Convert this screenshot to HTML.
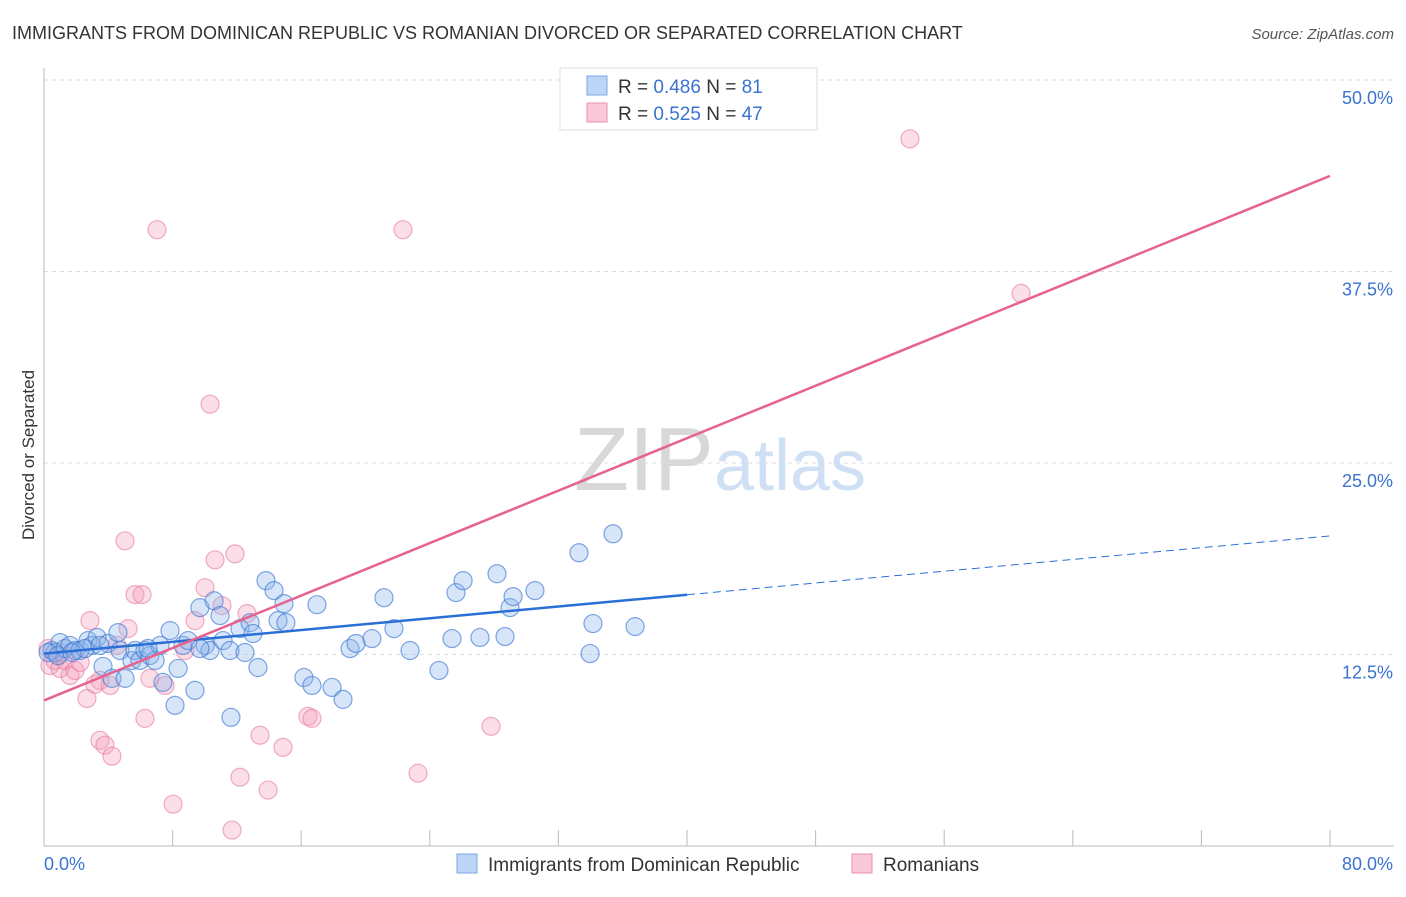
<!DOCTYPE html>
<html><head><meta charset="utf-8"><style>
body{margin:0;background:#fff;font-family:"Liberation Sans",sans-serif}
svg text{font-family:"Liberation Sans",sans-serif}
</style></head><body>
<svg id="chart" width="1406" height="892">
<text x="12" y="39" font-size="18" fill="#333">IMMIGRANTS FROM DOMINICAN REPUBLIC VS ROMANIAN DIVORCED OR SEPARATED CORRELATION CHART</text>
<text x="1394" y="39" font-size="15" fill="#555" font-style="italic" text-anchor="end">Source: ZipAtlas.com</text>
<text x="720" y="490" font-size="90" fill="#ddd" text-anchor="middle" font-family="Liberation Serif"><tspan fill="#d8d8d8">ZIP</tspan><tspan fill="#cfe0f5" font-family="Liberation Sans" font-size="72">atlas</tspan></text>
<g id="grid"></g>
<g id="axes"></g>
<text transform="translate(34,455) rotate(-90)" font-size="17" fill="#333" text-anchor="middle">Divorced or Separated</text>
<g id="pts"></g>
<g id="lines"></g>
<g>
<rect x="560" y="68" width="257" height="62" fill="#fff" stroke="#ddd"/>
<rect x="587" y="76" width="20" height="19" fill="#bcd4f5" stroke="#7aa7e6"/>
<rect x="587" y="103" width="20" height="19" fill="#f9c9d8" stroke="#ec8fae"/>
<text x="618" y="93" font-size="19" fill="#333">R = <tspan fill="#3a73d0">0.486</tspan>   N =  <tspan fill="#3a73d0">81</tspan></text>
<text x="618" y="120" font-size="19" fill="#333">R = <tspan fill="#3a73d0">0.525</tspan>   N = <tspan fill="#3a73d0">47</tspan></text>
</g>
<g>
<rect x="457" y="854" width="20" height="19" fill="#bcd4f5" stroke="#7aa7e6"/>
<text x="488" y="871" font-size="19" fill="#333">Immigrants from Dominican Republic</text>
<rect x="852" y="854" width="20" height="19" fill="#f9c9d8" stroke="#ec8fae"/>
<text x="883" y="871" font-size="19" fill="#333">Romanians</text>
</g>
</svg>
<script>
const blueX=[0.50,0.68,1.0,1.31,1.62,1.93,2.24,2.74,2.99,3.30,3.67,3.98,4.23,4.60,4.73,5.04,5.47,5.66,5.97,6.28,6.59,6.91,7.22,7.40,7.84,8.15,8.34,8.65,8.96,9.39,9.70,10.02,10.33,10.58,10.95,11.14,11.57,11.63,12.19,12.50,12.82,13.00,13.31,13.81,14.31,14.56,14.93,15.05,16.17,16.67,16.98,17.92,18.60,19.04,19.41,20.40,21.15,21.77,22.77,24.57,25.38,25.63,26.07,27.12,28.18,28.68,28.99,29.18,30.54,33.28,33.97,34.15,35.40,36.77,0.25,0.87,2.55,6.47,9.70,1.74,3.48];
const blueY=[12.76,12.63,13.28,12.89,13.09,12.76,12.76,13.41,13.09,13.61,11.72,13.22,10.94,13.93,12.76,10.94,12.11,12.76,12.11,12.76,12.43,12.11,13.09,10.68,14.06,9.18,11.59,13.09,13.41,10.16,15.56,13.09,12.76,16.01,15.04,13.41,12.76,8.40,14.19,12.63,14.58,13.87,11.65,17.32,16.67,14.71,15.82,14.58,11.00,10.48,15.75,10.35,9.57,12.89,13.22,13.54,16.21,14.19,12.76,11.46,13.54,16.54,17.32,13.61,17.77,13.67,15.56,16.28,16.67,19.14,12.56,14.52,20.38,14.32,12.63,12.43,12.89,12.89,12.89,12.63,13.09];
const pinkX=[0.25,0.37,0.68,1.0,1.31,1.62,1.93,2.24,2.67,2.86,3.17,3.48,3.79,4.23,4.11,4.54,5.04,5.23,5.66,6.10,6.28,6.59,7.03,7.53,8.03,8.77,9.39,10.02,10.33,10.64,11.07,11.70,11.88,12.19,12.63,13.44,13.94,14.87,16.42,16.67,22.33,23.27,27.81,53.87,60.78,1.12,3.48];
const pinkY=[12.89,11.78,12.11,11.59,12.11,11.13,11.46,11.98,9.63,14.71,10.55,6.90,6.58,5.86,10.48,13.09,19.92,14.19,16.41,16.41,8.33,10.94,40.23,10.48,2.73,12.76,14.71,16.86,28.84,18.68,15.69,1.04,19.07,4.49,15.17,7.23,3.65,6.44,8.46,8.33,40.23,4.75,7.81,46.16,36.07,12.63,10.81];
const blueTrend=[12.56,0.096];
const pinkTrend=[9.50,0.428];
const yTicks=[12.5,25,37.5,50];
const xTickLabels=["0.0%","80.0%"];
const X0=44,X1=1330,Y0=846,Ymax=50,Ytop=80;
const sx=v=>X0+v/80*(X1-X0);
const sy=v=>Y0-v/Ymax*(Y0-Ytop);
const NS="http://www.w3.org/2000/svg";
function mk(tag,attrs,parent){const e=document.createElementNS(NS,tag);for(const k in attrs)e.setAttribute(k,attrs[k]);parent.appendChild(e);return e;}
const grid=document.getElementById('grid'),axes=document.getElementById('axes'),pts=document.getElementById('pts'),lines=document.getElementById('lines');
yTicks.forEach(t=>{
 const l=mk('line',{x1:X0,x2:1394,y1:sy(t),y2:sy(t),stroke:'#ddd','stroke-dasharray':'4,4'},grid);
 
 
 const tx=mk('text',{x:1393,y:sy(t)+24,'font-size':18,fill:'#3a73d0','text-anchor':'end'},axes);
 tx.textContent=t.toFixed(1)+'%';
 
 
});
mk('line',{x1:X0,x2:X0,y1:68,y2:846,stroke:'#bbb'},axes);
mk('line',{x1:X0,x2:1394,y1:846,y2:846,stroke:'#bbb'},axes);
for(let i=1;i<=10;i++){const x=sx(i*8);const t=mk('line',{x1:x,x2:x,y1:830,y2:846,stroke:'#bbb'},axes);
 
 }
const xl0=mk('text',{x:44,y:870,'font-size':18,fill:'#3a73d0'},axes);xl0.textContent=xTickLabels[0];


const xl1=mk('text',{x:1393,y:870,'font-size':18,fill:'#3a73d0','text-anchor':'end'},axes);xl1.textContent=xTickLabels[1];


pinkX.forEach((x,i)=>{const c=mk('circle',{cx:sx(x),cy:sy(pinkY[i]),r:9,fill:'rgba(244,160,188,0.35)',stroke:'rgba(232,120,160,0.6)','stroke-width':1.2},pts);
 
 });
blueX.forEach((x,i)=>{const c=mk('circle',{cx:sx(x),cy:sy(blueY[i]),r:9,fill:'rgba(140,180,235,0.35)',stroke:'rgba(60,120,210,0.65)','stroke-width':1.2},pts);
 
 });
const bl=mk('line',{x1:sx(0),y1:sy(blueTrend[0]),x2:sx(40),y2:sy(blueTrend[0]+blueTrend[1]*40),stroke:'#2a6fd6','stroke-width':2.5},lines);


const bd=mk('line',{x1:sx(40),y1:sy(blueTrend[0]+blueTrend[1]*40),x2:sx(80),y2:sy(blueTrend[0]+blueTrend[1]*80),stroke:'#2a6fd6','stroke-width':1,'stroke-dasharray':'8,5'},lines);


const pl=mk('line',{x1:sx(0),y1:sy(pinkTrend[0]),x2:sx(80),y2:sy(pinkTrend[0]+pinkTrend[1]*80),stroke:'#e8628f','stroke-width':2.5},lines);


</script>
</body></html>
